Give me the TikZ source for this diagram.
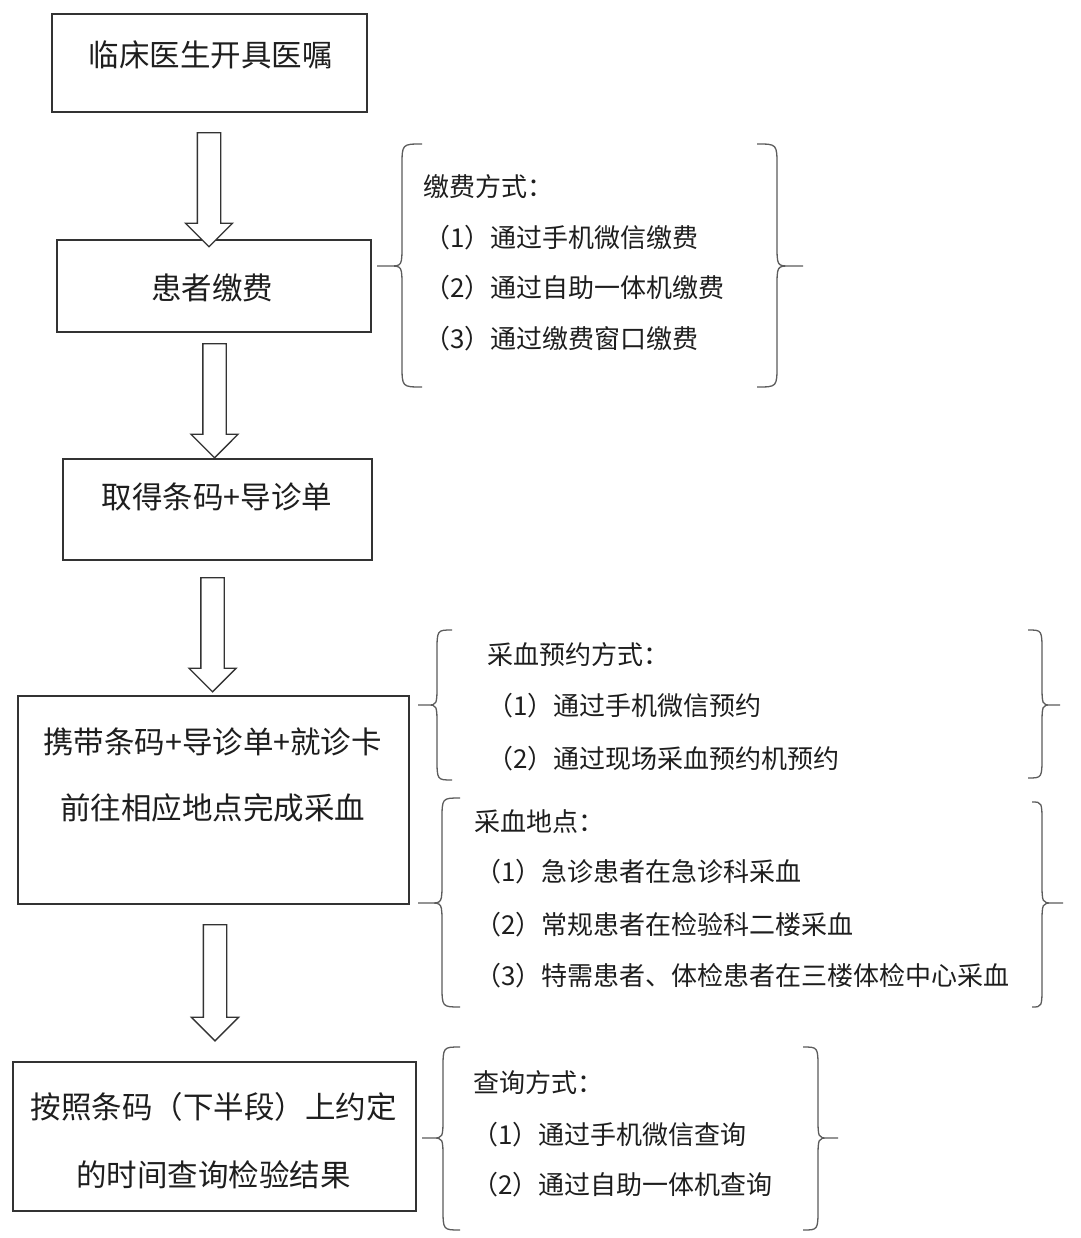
\documentclass[tikz,border=0pt]{standalone}
\usepackage{fontspec}
\setmainfont{Noto Sans CJK SC}
\usetikzlibrary{shapes.arrows}
\definecolor{ink}{HTML}{1E1E1E}
\definecolor{edge}{HTML}{333333}
\tikzset{
  box/.style={draw=edge, line width=1.4pt, inner sep=0pt},
  boxtext/.style={font=\fontsize{30.5}{36}\selectfont, text=ink, inner sep=0pt},
  sidetext/.style={font=\fontsize{26}{31}\selectfont, text=ink, inner sep=0pt, anchor=west},
  blockarrow/.style={single arrow, draw=edge, line width=1.3pt, fill=white,
    shape border rotate=270, inner sep=11pt, single arrow head extend=12pt,
    minimum width=0pt, single arrow tip angle=90},
  bracestyle/.style={draw=edge!80, line width=1.3pt}
}
% args: end x, vertical x, tip x, top y, tip y, bottom y
\newcommand\curlybr[6]{\draw[bracestyle] (#1,#4) .. controls (#2,#4) .. (#2,{#4+22}) -- (#2,{#5-22}) .. controls (#2,#5) .. ({(#2+#3)/2},#5) -- (#3,#5) -- ({(#2+#3)/2},#5) .. controls (#2,#5) .. (#2,{#5+22}) -- (#2,{#6-22}) .. controls (#2,#6) .. (#1,#6);}
\begin{document}
\begin{tikzpicture}[x=1pt,y=-1pt]
\useasboundingbox[fill=white] (0,0) rectangle (1080,1238);

% boxes
\node[box, minimum width=315pt, minimum height=98pt] (b1) at (209.5,63) {};
\node[box, minimum width=314pt, minimum height=92pt] (b2) at (214,286) {};
\node[box, minimum width=309pt, minimum height=101pt] (b3) at (217.5,509.5) {};
\node[box, minimum width=391pt, minimum height=208pt] (b4) at (213.5,800) {};
\node[box, minimum width=403pt, minimum height=149pt] (b5) at (214.5,1136.5) {};

% box texts
\node[boxtext] (t1) at (210.5,55) {临床医生开具医嘱};
\node[boxtext] (t2) at (212,288) {患者缴费};
\node[boxtext] (t3) at (217,497) {取得条码+导诊单};
\node[boxtext] (t4a) at (212.5,742) {携带条码+导诊单+就诊卡};
\node[boxtext] (t4b) at (212.5,808) {前往相应地点完成采血};
\node[boxtext] (t5a) at (213.5,1107) {按照条码（下半段）上约定};
\node[boxtext] (t5b) at (213.5,1175) {的时间查询检验结果};

% hollow arrows between boxes
\node[blockarrow, minimum height=114pt] (a1) at (209,184) {};
\node[blockarrow, minimum height=114pt] (a2) at (214.5,395) {};
\node[blockarrow, minimum height=114pt] (a3) at (212.5,629) {};
\node[blockarrow, minimum height=116pt] (a4) at (215,977) {};

% braces
\curlybr{422}{402}{377}{144}{266}{387}
\curlybr{757}{777}{803}{144}{266}{387}
\curlybr{452}{437}{418}{630}{705}{780}
\curlybr{1028}{1042}{1060}{630}{705}{778}
\curlybr{460}{442}{418}{798}{903}{1007}
\curlybr{1032}{1042}{1063}{802}{903}{1007}
\curlybr{460}{443}{422}{1047}{1138}{1230}
\curlybr{803}{818}{838}{1047}{1138}{1230}

% side texts
\node[sidetext] (p0) at (423,187) {缴费方式：};
\node[sidetext] (p1) at (424,238) {（1）通过手机微信缴费};
\node[sidetext] (p2) at (424,288) {（2）通过自助一体机缴费};
\node[sidetext] (p3) at (424,339) {（3）通过缴费窗口缴费};

\node[sidetext] (r0) at (487,655) {采血预约方式：};
\node[sidetext] (r1) at (487,706) {（1）通过手机微信预约};
\node[sidetext] (r2) at (487,759) {（2）通过现场采血预约机预约};

\node[sidetext] (s0) at (474,822) {采血地点：};
\node[sidetext] (s1) at (475,872) {（1）急诊患者在急诊科采血};
\node[sidetext] (s2) at (475,925) {（2）常规患者在检验科二楼采血};
\node[sidetext] (s3) at (475,976) {（3）特需患者、体检患者在三楼体检中心采血};

\node[sidetext] (q0) at (473,1083) {查询方式：};
\node[sidetext] (q1) at (472,1135) {（1）通过手机微信查询};
\node[sidetext] (q2) at (472,1185) {（2）通过自助一体机查询};
\end{tikzpicture}
\end{document}
